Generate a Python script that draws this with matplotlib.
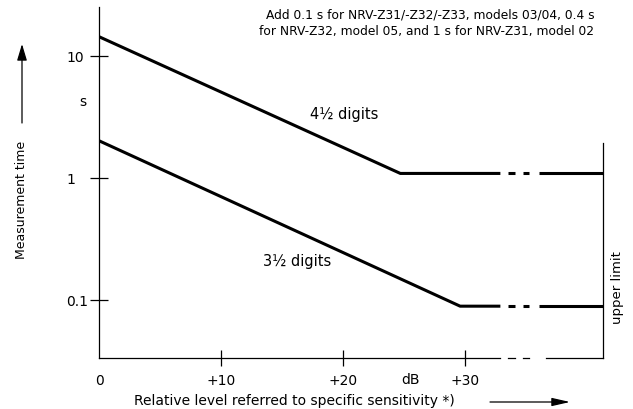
import matplotlib
matplotlib.use("Agg")
import matplotlib.pyplot as plt

db_45 = [0, 24.7, 32.9]
t_45 = [14.4, 1.09, 1.09]
db_35 = [0, 29.6, 32.9]
t_35 = [2.02, 0.089, 0.089]

# broken part towards the upper limit
gap_dashes = [(33.5, 34.1), (34.75, 35.25)]
tail_db = [36.1, 41.3]
axis_tail_db = [36.6, 41.3]
upper_limit_db = 41.3
upper_limit_top = 1.94

xticks = [0, 10, 20, 30]
xticklabels = ["0", "+10", "+20", "+30"]
yticks = [0.1, 1, 10]
yticklabels = ["0.1", "1", "10"]

note = ("Add 0.1 s for NRV-Z31/-Z32/-Z33, models 03/04, 0.4 s\n"
        "for NRV-Z32, model 05, and 1 s for NRV-Z31, model 02")

W, H = 633, 410
fig = plt.figure(figsize=(W / 100, H / 100), dpi=100)
ax = fig.add_axes([99 / W, (H - 359) / H, 534 / W, 351 / H])
ax.set_yscale("log")
ax.set_xlim(0, 534 / 12.2)
ax.set_ylim(10 ** (-180 / 122), 10 ** (171 / 122))

for s in ["top", "right", "bottom"]:
    ax.spines[s].set_visible(False)
ax.spines["left"].set_linewidth(0.9)

# ticks
ax.set_yticks(yticks, yticklabels)
ax.yaxis.set_minor_locator(plt.NullLocator())
ax.tick_params(axis="y", direction="inout", length=13, width=0.9, pad=17.3, labelsize=10)
for lab in ax.get_yticklabels():
    lab.set_horizontalalignment("left")
ax.set_xticks(xticks, xticklabels)
ax.tick_params(axis="x", direction="inout", length=12.2, width=0.9, pad=4.8, labelsize=10)
ax.xaxis.get_major_ticks()[0].tick1line.set_visible(False)

# x axis drawn in pieces
xt = ax.get_xaxis_transform()
ax.plot([0, db_45[-1]], [0, 0], color="black", lw=0.9, transform=xt, clip_on=False)
for a, b in gap_dashes:
    ax.plot([a, b], [0, 0], color="black", lw=0.9, transform=xt, clip_on=False)
ax.plot(axis_tail_db, [0, 0], color="black", lw=0.9, transform=xt, clip_on=False)

# curves
for xs, ts in [(db_45, t_45), (db_35, t_35)]:
    ax.plot(xs, ts, color="black", lw=2.2, solid_capstyle="butt")
    for a, b in gap_dashes:
        ax.plot([a, b], [ts[-1], ts[-1]], color="black", lw=2.2, solid_capstyle="butt")
    ax.plot(tail_db, [ts[-1], ts[-1]], color="black", lw=2.2, solid_capstyle="butt")

# upper limit
ax.plot([upper_limit_db, upper_limit_db], [ax.get_ylim()[0], upper_limit_top],
        color="black", lw=0.9, clip_on=False)
ax.text(42.46, 0.130, "upper limit", rotation=90, ha="center", va="center", fontsize=9.5)

ax.text(20.1, 3.35, "4\u00bd digits", ha="center", va="center", fontsize=10.5)
ax.text(16.2, 0.209, "3\u00bd digits", ha="center", va="center", fontsize=10.5)
ax.text(-1.31, 4.28, "s", ha="center", va="center", fontsize=10, clip_on=False)
ax.text(25.5, -0.06, "dB", ha="center", va="center", fontsize=10, transform=xt)
ax.text(40.6, 18.8, note, ha="right", va="center", multialignment="right",
        fontsize=8.8, linespacing=1.35)

# axis titles with arrows
fig.text(22 / W, 1 - 200 / H, "Measurement time", rotation=90,
         ha="center", va="center", fontsize=9)
ax.annotate("", xy=(22 / W, 1 - 45 / H), xytext=(22 / W, 1 - 124 / H),
            xycoords="figure fraction", textcoords="figure fraction",
            arrowprops=dict(arrowstyle="-|>,head_length=1.0,head_width=0.3",
                            mutation_scale=10, lw=0.9, color="black",
                            shrinkA=0, shrinkB=0))
fig.text(294 / W, 1 - 401 / H, "Relative level referred to specific sensitivity *)",
         ha="center", va="center", fontsize=10)
ax.annotate("", xy=(570 / W, 1 - 403 / H), xytext=(490 / W, 1 - 403 / H),
            xycoords="figure fraction", textcoords="figure fraction",
            arrowprops=dict(arrowstyle="-|>,head_length=1.1,head_width=0.25",
                            mutation_scale=10, lw=0.9, color="black",
                            shrinkA=0, shrinkB=0))

fig.savefig("out.png", dpi=100)
